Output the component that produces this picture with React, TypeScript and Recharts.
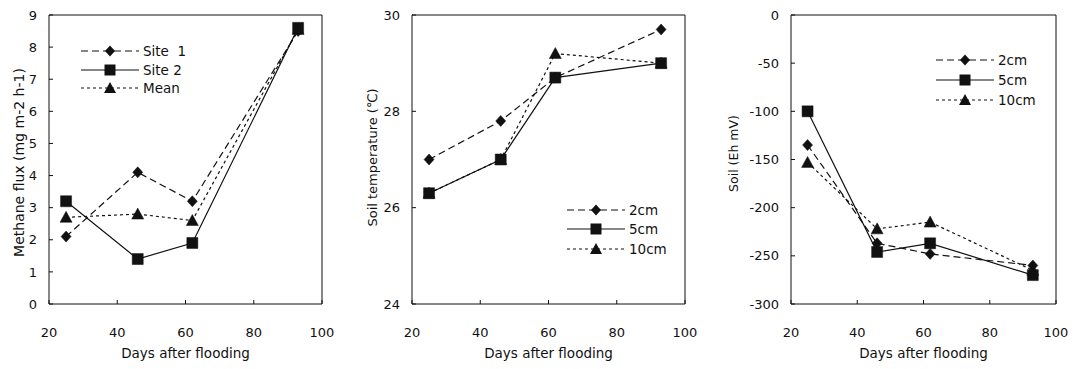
import { Legend, Line, LineChart, ReferenceLine, XAxis, YAxis } from 'recharts'

const DAYS = [25, 46, 62, 93]
const X_TICKS = [20, 40, 60, 80, 100]

// panel 1 - methane flux
const SITE1 = [2.1, 4.1, 3.2, 8.5]
const SITE2 = [3.2, 1.4, 1.9, 8.6]
const MEAN = [2.7, 2.8, 2.6, 8.55]
const FLUX_TICKS = [0, 1, 2, 3, 4, 5, 6, 7, 8, 9]

// panel 2 - soil temperature
const TEMP_2CM = [27.0, 27.8, 28.7, 29.7]
const TEMP_5CM = [26.3, 27.0, 28.7, 29.0]
const TEMP_10CM = [26.3, 27.0, 29.2, 29.0]
const TEMP_TICKS = [24, 26, 28, 30]

// panel 3 - soil Eh
const EH_2CM = [-135, -237, -248, -260]
const EH_5CM = [-100, -246, -237, -270]
const EH_10CM = [-153, -222, -215, -265]
const EH_TICKS = [-300, -250, -200, -150, -100, -50, 0]

const INK = '#111'
const FONT = '"DejaVu Sans", sans-serif'
const X_GAP = 24
const Y_GAP = 12

type Mark = 'diamond' | 'square' | 'triangle'
type Serie = { key: string; name: string; dash?: string; mark: Mark }

const FLUX_SERIES: Serie[] = [
  { key: 'a', name: 'Site  1', dash: '7 4', mark: 'diamond' },
  { key: 'b', name: 'Site 2', mark: 'square' },
  { key: 'c', name: 'Mean', dash: '3 3', mark: 'triangle' },
]
const DEPTH_SERIES: Serie[] = [
  { key: 'a', name: '2cm', dash: '7 4', mark: 'diamond' },
  { key: 'b', name: '5cm', mark: 'square' },
  { key: 'c', name: '10cm', dash: '3 3', mark: 'triangle' },
]

function markPath(mark: Mark, cx: number, cy: number) {
  if (mark === 'diamond') return `M${cx} ${cy - 5.5}L${cx + 5} ${cy}L${cx} ${cy + 5.5}L${cx - 5} ${cy}Z`
  if (mark === 'square') return `M${cx - 5.5} ${cy - 5.5}h11v11h-11Z`
  return `M${cx} ${cy - 6}L${cx + 6} ${cy + 5}L${cx - 6} ${cy + 5}Z`
}

const dotFor = (mark: Mark) => (p: any) => {
  if (p.cx == null || p.cy == null) return <g key={p.index} />
  return <path key={p.index} d={markPath(mark, p.cx, p.cy)} fill={INK} stroke={INK} strokeWidth={0.5} />
}

function XTick(p: any) {
  const top = p.y - X_GAP
  return (
    <g>
      <line x1={p.x} x2={p.x} y1={top} y2={top - 4} stroke={INK} />
      <text x={p.x} y={p.y} dy="0.71em" textAnchor="middle" fontSize={13} fontFamily={FONT} fill={INK}>
        {p.payload.value}
      </text>
    </g>
  )
}

function YTick(p: any) {
  const left = p.x + Y_GAP
  return (
    <g>
      <line x1={left} x2={left + 4} y1={p.y} y2={p.y} stroke={INK} />
      <text x={p.x} y={p.y} dy="0.355em" textAnchor="end" fontSize={13} fontFamily={FONT} fill={INK}>
        {p.payload.value}
      </text>
    </g>
  )
}

const yTitle = (text: string, left: number, shift: number, size: number) => (p: any) => {
  const vb = p.viewBox
  const cx = left
  const cy = vb.y + vb.height / 2 + shift
  return (
    <text x={cx} y={cy} transform={`rotate(-90 ${cx} ${cy})`} textAnchor="middle" dominantBaseline="central"
      fontSize={size} fontFamily={FONT} fill={INK}>
      {text}
    </text>
  )
}

const xTitle = (p: any) => {
  const vb = p.viewBox
  return (
    <text x={vb.x + vb.width / 2} y={vb.y + 54} textAnchor="middle" fontSize={13.5} fontFamily={FONT} fill={INK}>
      Days after flooding
    </text>
  )
}

function SeriesLegend({ series, gap }: { series: Serie[]; gap: number }) {
  return (
    <div style={{ fontFamily: FONT, fontSize: 13.5, color: INK }}>
      {series.map((s) => (
        <div key={s.key} style={{ display: 'flex', alignItems: 'center', height: gap }}>
          <svg width={58} height={14}>
            <line x1={0} x2={58} y1={7} y2={7} stroke={INK} strokeWidth={1.2} strokeDasharray={s.dash} />
            <path d={markPath(s.mark, 29, 7)} fill={INK} />
          </svg>
          <span style={{ marginLeft: 4, whiteSpace: 'pre' }}>{s.name}</span>
        </div>
      ))}
    </div>
  )
}

type PanelProps = {
  width: number
  yWidth: number
  a: number[]
  b: number[]
  c: number[]
  yDomain: [number, number]
  yTicks: number[]
  title: string
  titleLeft: number
  titleShift: number
  titleSize: number
  series: Serie[]
  legendLeft: number
  legendTop: number
  legendGap: number
}

function Panel(props: PanelProps) {
  const data = DAYS.map((d, i) => ({ day: d, a: props.a[i], b: props.b[i], c: props.c[i] }))
  const order = [props.series[2], props.series[0], props.series[1]]
  return (
    <LineChart width={props.width} height={369} data={data} margin={{ top: 15, right: 20, bottom: 0, left: 0 }}>
      <XAxis
        dataKey="day"
        type="number"
        domain={[20, 100]}
        ticks={X_TICKS}
        tick={XTick}
        tickSize={0}
        tickMargin={X_GAP}
        tickLine={false}
        axisLine={{ stroke: INK }}
        height={65}
        label={{ content: xTitle }}
      />
      <YAxis
        type="number"
        domain={props.yDomain}
        ticks={props.yTicks}
        tick={YTick}
        tickSize={0}
        tickMargin={Y_GAP}
        tickLine={false}
        axisLine={{ stroke: INK }}
        width={props.yWidth}
        label={{ content: yTitle(props.title, props.titleLeft, props.titleShift, props.titleSize) }}
      />
      <ReferenceLine y={props.yDomain[1]} stroke={INK} />
      <ReferenceLine x={100} stroke={INK} />
      <Legend
        layout="vertical"
        align="center"
        verticalAlign="middle"
        wrapperStyle={{ left: props.legendLeft, top: props.legendTop, width: 'auto' }}
        content={() => <SeriesLegend series={props.series} gap={props.legendGap} />}
      />
      {order.map((s) => (
        <Line
          key={s.key}
          dataKey={s.key}
          name={s.name}
          stroke={INK}
          strokeWidth={1.2}
          strokeDasharray={s.dash}
          dot={dotFor(s.mark)}
          activeDot={false}
          isAnimationActive={false}
        />
      ))}
    </LineChart>
  )
}

export default function App() {
  return (
    <div style={{ position: 'absolute', left: 0, top: 0, width: 1077, height: 369, background: '#fff' }}>
      <div style={{ position: 'absolute', left: 0, top: 0 }}>
        <Panel width={342} yWidth={49} a={SITE1} b={SITE2} c={MEAN} yDomain={[0, 9]} yTicks={FLUX_TICKS}
          title="Methane flux (mg m-2 h-1)" titleLeft={19} titleShift={3} titleSize={14} series={FLUX_SERIES}
          legendLeft={81} legendTop={42} legendGap={18.5} />
      </div>
      <div style={{ position: 'absolute', left: 360, top: 0 }}>
        <Panel width={345} yWidth={52} a={TEMP_2CM} b={TEMP_5CM} c={TEMP_10CM} yDomain={[24, 30]} yTicks={TEMP_TICKS}
          title="Soil temperature  (℃)" titleLeft={12} titleShift={-2} titleSize={13} series={DEPTH_SERIES}
          legendLeft={207} legendTop={200} legendGap={19.5} />
      </div>
      <div style={{ position: 'absolute', left: 718, top: 0 }}>
        <Panel width={358} yWidth={73} a={EH_2CM} b={EH_5CM} c={EH_10CM} yDomain={[-300, 0]} yTicks={EH_TICKS}
          title="Soil (Eh mV)" titleLeft={15} titleShift={-6} titleSize={12.5} series={DEPTH_SERIES}
          legendLeft={218} legendTop={50} legendGap={20} />
      </div>
    </div>
  )
}
